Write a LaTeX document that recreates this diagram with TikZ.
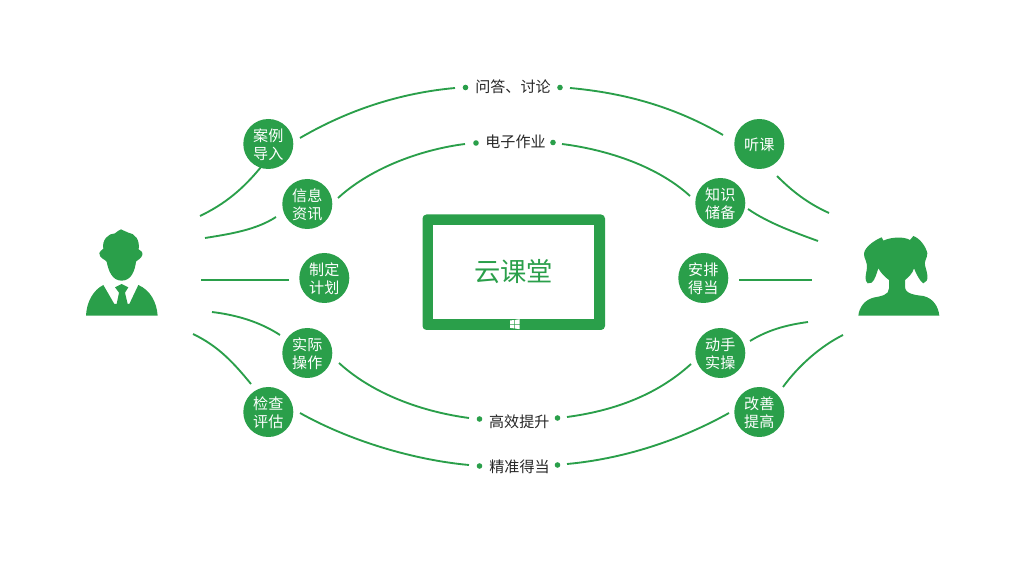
\documentclass[tikz,border=0pt]{standalone}
\usepackage{fontspec}
\setmainfont{Noto Sans CJK SC}
\definecolor{gr}{HTML}{2A9F4A}
\newcommand{\lowr}[1]{\raisebox{-0.9pt}[\height][\depth]{#1}}
\tikzset{
  badge/.style={circle,fill=gr,minimum size=37.5pt,inner sep=0pt,text=white,align=center,font=\fontsize{11.3}{13.5}\selectfont},
  lnk/.style={draw=gr,line width=1.4pt},
  dotn/.style={circle,fill=gr,minimum size=4.2pt,inner sep=0pt},
  lbl/.style={text=black!85,font=\fontsize{11.3}{14}\selectfont,inner sep=0pt},
  sil/.style={fill=gr,draw=none}
}
\begin{document}
\begin{tikzpicture}[x=0.75pt,y=-0.75pt]
\useasboundingbox (0,0) rectangle (1024,580);
% badges
\node[badge] (a1) at (268.3,144) {\lowr{案例}\\\lowr{导入}};
\node[badge] (a2) at (307.3,204) {\lowr{信息}\\\lowr{资讯}};
\node[badge] (a3) at (324.3,278) {\lowr{制定}\\\lowr{计划}};
\node[badge] (a4) at (307.3,353) {\lowr{实际}\\\lowr{操作}};
\node[badge] (a5) at (268.3,412) {\lowr{检查}\\\lowr{评估}};
\node[badge] (b1) at (759.3,144) {\lowr{听课}};
\node[badge] (b2) at (720.3,203) {\lowr{知识}\\\lowr{储备}};
\node[badge] (b3) at (703.3,278) {\lowr{安排}\\\lowr{得当}};
\node[badge] (b4) at (720.3,353) {\lowr{动手}\\\lowr{实操}};
\node[badge] (b5) at (759.3,412) {\lowr{改善}\\\lowr{提高}};
% labels and dots
\node[lbl] (t1) at (513,86.5) {问答、讨论};
\node[lbl] (t2) at (515.5,141.5) {电子作业};
\node[lbl] (t3) at (519.3,421.5) {高效提升};
\node[lbl] (t4) at (519.5,466.5) {精准得当};
\node[dotn] (d1l) at (465.5,87.5) {}; \node[dotn] (d1r) at (560,87.5) {};
\node[dotn] (d2l) at (476,143) {}; \node[dotn] (d2r) at (553,142.5) {};
\node[dotn] (d3l) at (479.5,419) {}; \node[dotn] (d3r) at (557.5,418) {};
\node[dotn] (d4l) at (479.5,466) {}; \node[dotn] (d4r) at (557.5,465) {};
% free ends
\foreach \n/\x/\y in {
 p1/300/138, q1/455/88, r1/570/88, s1/723/135,
 p2/338/198, q2/465/144, r2/562/144, s2/690/196,
 p3/339/363, q3/469/418, r3/567/417, s3/691/364,
 p4/300/413, q4/469/465, r4/567/464, s4/729/413,
 l1a/261/167, l1b/200/216, l2a/276/217, l2b/205/238,
 l3a/289/280, l3b/201/280, l4a/280/335, l4b/212/312,
 l5a/251/384, l5b/193/334,
 m1a/777/176, m1b/829/213, m2a/748/209, m2b/818/241,
 m3a/739/280, m3b/812/280, m4a/750/341, m4b/808/322,
 m5a/783/387, m5b/843/335}
 {\coordinate (\n) at (\x,\y);}
% arcs
\draw[lnk] (p1) .. controls +(48,-28) and +(-55,5) .. (q1);
\draw[lnk] (r1) .. controls +(55,5) and +(-48,-28) .. (s1);
\draw[lnk] (p2) .. controls +(35,-32) and +(-40,5) .. (q2);
\draw[lnk] (r2) .. controls +(40,5) and +(-35,-32) .. (s2);
\draw[lnk] (p3) .. controls +(35,32) and +(-45,-6) .. (q3);
\draw[lnk] (r3) .. controls +(45,-6) and +(-35,32) .. (s3);
\draw[lnk] (p4) .. controls +(50,28) and +(-55,-5) .. (q4);
\draw[lnk] (r4) .. controls +(55,-5) and +(-50,28) .. (s4);
\draw[lnk] (l1a) .. controls +(-18,22) and +(25,-12) .. (l1b);
\draw[lnk] (l2a) .. controls +(-20,13) and +(25,-4) .. (l2b);
\draw[lnk] (l3a) -- (l3b);
\draw[lnk] (l4a) .. controls +(-20,-13) and +(25,3) .. (l4b);
\draw[lnk] (l5a) .. controls +(-18,-22) and +(25,12) .. (l5b);
\draw[lnk] (m1a) .. controls +(15,15) and +(-22,-10) .. (m1b);
\draw[lnk] (m2a) .. controls +(20,14) and +(-22,-8) .. (m2b);
\draw[lnk] (m3a) -- (m3b);
\draw[lnk] (m4a) .. controls +(18,-11) and +(-22,3) .. (m4b);
\draw[lnk] (m5a) .. controls +(16,-22) and +(-22,11) .. (m5b);
% tablet
\fill[gr,rounded corners=3pt] (422.5,214.5) rectangle (605,330);
\fill[white] (433,225) rectangle (594,319);
\node[text=gr,font=\fontsize{19.7}{24}\selectfont,inner sep=0pt] (tb) at (513.5,272) {云课堂};
\fill[white] (510.2,320.5) -- (514.3,320) -- (514.3,323.8) -- (510.2,323.8) -- cycle;
\fill[white] (515.1,319.9) -- (519.6,319.2) -- (519.6,323.8) -- (515.1,323.8) -- cycle;
\fill[white] (510.2,324.6) -- (514.3,324.6) -- (514.3,328.4) -- (510.2,327.9) -- cycle;
\fill[white] (515.1,324.6) -- (519.6,324.6) -- (519.6,329.2) -- (515.1,328.5) -- cycle;
% man
\begin{scope}[shift={(60,210)},x=0.25pt,y=-0.25pt]
\fill[sil] (183,58) .. controls (192,58) and (195,68) .. (205,68) .. controls (225,70) and (240,90) .. (236,118) .. controls (242,120) and (250,128) .. (247,135) .. controls (245,145) and (232,150) .. (228,155) .. controls (225,180) and (215,212) .. (185,212) .. controls (155,212) and (145,180) .. (140,155) .. controls (135,148) and (118,145) .. (118,130) .. controls (118,125) and (128,118) .. (130,116) .. controls (125,90) and (145,70) .. (165,70) .. controls (172,68) and (175,58) .. (183,58) -- cycle;
\fill[sil] (78,317) .. controls (80,275) and (100,240) .. (130,225) -- (163,282) -- (170,282) -- (177,248) -- (165,232) -- (185,222) -- (205,232) -- (195,248) -- (203,282) -- (208,282) -- (235,225) .. controls (270,240) and (290,275) .. (293,317) -- cycle;
\end{scope}
% woman
\begin{scope}[shift={(840,220)},x=0.25pt,y=-0.25pt]
\fill[sil] (130,62) .. controls (150,52) and (190,48) .. (210,60) -- (220,48) .. controls (240,55) and (258,80) .. (262,100) .. controls (262,115) and (250,125) .. (256,140) .. controls (262,160) and (265,175) .. (260,182) -- (250,190) .. controls (240,185) and (228,160) .. (222,145) .. controls (218,160) and (205,172) .. (195,180) -- (147,180) .. controls (135,172) and (122,158) .. (115,145) .. controls (110,160) and (105,180) .. (95,188) -- (83,190) .. controls (72,180) and (78,165) .. (80,150) .. controls (85,125) and (70,115) .. (72,100) .. controls (75,80) and (105,60) .. (125,52) -- cycle;
\fill[sil] (55,287) .. controls (58,260) and (75,240) .. (100,233) .. controls (125,228) and (147,225) .. (147,205) -- (147,175) -- (195,175) -- (195,200) .. controls (195,222) and (225,225) .. (250,228) .. controls (280,235) and (295,260) .. (298,287) -- cycle;
\end{scope}
\end{tikzpicture}
\end{document}
